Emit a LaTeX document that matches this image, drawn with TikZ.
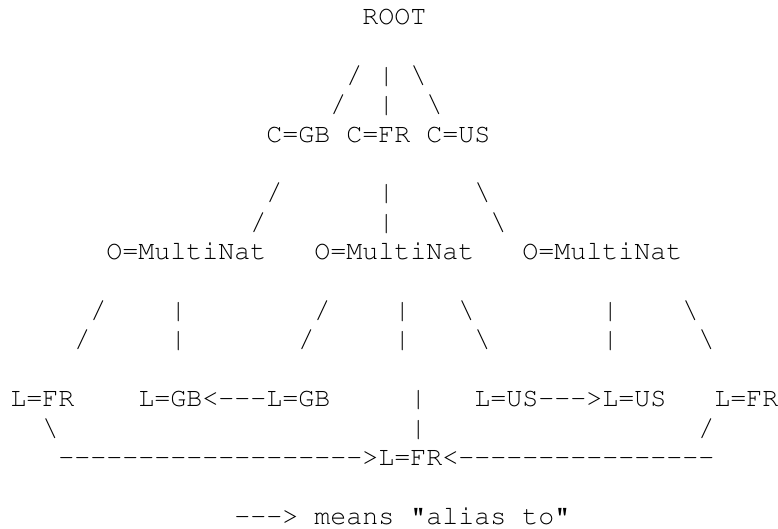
\documentclass[tikz,border=0pt]{standalone}
\usepackage[T1]{fontenc}
\usepackage{courier}

% column and row of the character grid, in pixels
\newcommand{\cx}[1]{10+16*#1}
\newcommand{\ry}[1]{24.5+29.4*#1}
\newcommand{\dashes}[1]{\foreach \k in {1,...,#1}{-}}

\tikzset{
  ascii/.style={inner sep=0pt, anchor=base west, font=\ttfamily\fontsize{13.33}{14.7}\selectfont},
}

\begin{document}
\begin{tikzpicture}[x=0.5pt, y=-0.5pt]
  \useasboundingbox (0,0) rectangle (778,529);

  \node[ascii] (root) at ({\cx{22}},{\ry{0}}) {ROOT};

  \node[ascii] (cgb) at ({\cx{16}},{\ry{4}}) {C=GB};
  \node[ascii] (cfr) at ({\cx{21}},{\ry{4}}) {C=FR};
  \node[ascii] (cus) at ({\cx{26}},{\ry{4}}) {C=US};

  \node[ascii] (ogb) at ({\cx{6}},{\ry{8}}) {O=MultiNat};
  \node[ascii] (ofr) at ({\cx{19}},{\ry{8}}) {O=MultiNat};
  \node[ascii] (ous) at ({\cx{32}},{\ry{8}}) {O=MultiNat};

  \node[ascii] (lfrgb) at ({\cx{0}},{\ry{13}}) {L=FR};
  \node[ascii] (lgb) at ({\cx{8}},{\ry{13}}) {L=GB<{-}{-}{-}L=GB};
  \node[ascii] (lus) at ({\cx{29}},{\ry{13}}) {L=US{-}{-}{-}>L=US};
  \node[ascii] (lfrus) at ({\cx{44}},{\ry{13}}) {L=FR};

  \node[ascii] (toleft) at ({\cx{3}},{\ry{15}}) {\dashes{19}>};
  \node[ascii] (lfr) at ({\cx{23}},{\ry{15}}) {L=FR};
  \node[ascii] (toright) at ({\cx{27}},{\ry{15}}) {<\dashes{16}};

  % branches, one character each
  \foreach \r/\c in {2/21, 3/20, 6/16, 7/15, 10/5, 11/4, 10/19, 11/18, 14/43}
    \node[ascii] (fw-\r-\c) at ({\cx{\c}},{\ry{\r}}) {/};
  \foreach \r/\c in {2/23, 3/23, 6/23, 7/23, 10/10, 11/10, 10/24, 11/24, 10/37, 11/37, 13/25, 14/25}
    \node[ascii] (vb-\r-\c) at ({\cx{\c}},{\ry{\r}}) {|};
  \foreach \r/\c in {2/25, 3/26, 6/29, 7/30, 10/28, 11/29, 10/42, 11/43, 14/2}
    \node[ascii] (bk-\r-\c) at ({\cx{\c}},{\ry{\r}}) {\textbackslash};

  \node[ascii] (legend) at ({\cx{14}},{\ry{17}}) {{-}{-}{-}> means "alias to"};
\end{tikzpicture}
\end{document}
